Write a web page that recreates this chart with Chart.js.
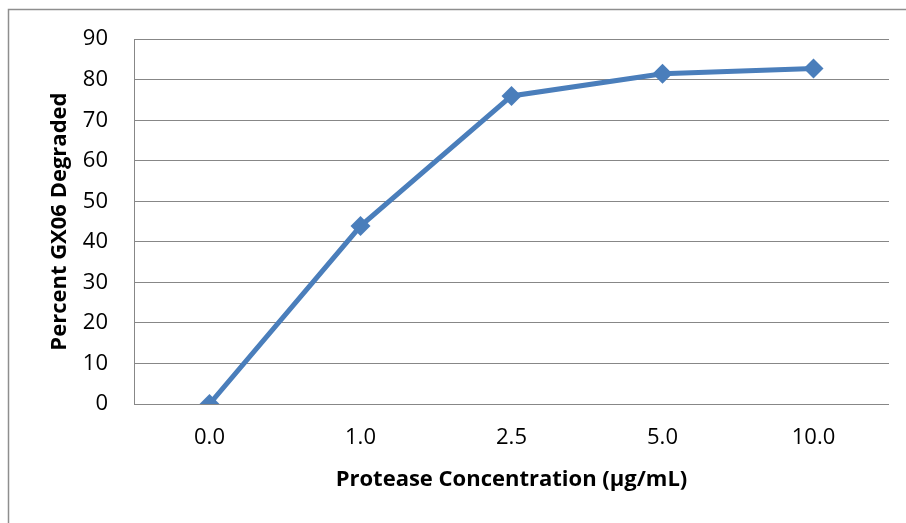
<!DOCTYPE html>
<html>
<head>
<meta charset="utf-8">
<title>Protease degradation of GX06</title>
<script src="https://cdn.jsdelivr.net/npm/chart.js@4.4.0/dist/chart.umd.min.js"></script>
<style>
  html, body { margin: 0; padding: 0; background: #ffffff; }
  #wrap { position: relative; width: 906px; height: 523px; }
</style>
</head>
<body>
<div id="wrap"><canvas id="degradeChart" width="906" height="523"></canvas></div>
<script>
  // ---------- Data ----------
  const concentrations = ["0.0", "1.0", "2.5", "5.0", "10.0"];
  const percentDegraded = [0, 43.9, 76.0, 81.5, 82.8];
  const yTicks = [0, 10, 20, 30, 40, 50, 60, 70, 80, 90];

  // ---------- Palette ----------
  const COLORS = {
    ink: "#000000",
    grid: "#878787",
    frame: "#8e8e8e",
    line: "#4a7ebb",
  };
  const FONT = "'Open Sans', 'Noto Sans', sans-serif";

  // Thin grey frame around the whole chart
  const framePlugin = {
    id: "frame",
    beforeDraw(chart) {
      const ctx = chart.ctx;
      ctx.save();
      ctx.strokeStyle = COLORS.frame;
      ctx.lineWidth = 1.5;
      ctx.strokeRect(8.5, 9.5, 920, 540);
      ctx.restore();
    },
  };

  new Chart(document.getElementById("degradeChart"), {
    type: "line",
    data: {
      labels: concentrations,
      datasets: [
        {
          data: percentDegraded,
          borderColor: COLORS.line,
          backgroundColor: COLORS.line,
          borderWidth: 5,
          pointStyle: "rectRot",
          pointRadius: 10,
          pointHoverRadius: 10,
          pointBorderWidth: 0,
          tension: 0,
        },
      ],
    },
    options: {
      responsive: false,
      animation: false,
      devicePixelRatio: 1,
      layout: { padding: { left: 0, top: 39, right: 17, bottom: 0 } },
      plugins: { legend: { display: false }, tooltip: { enabled: false } },
      scales: {
        x: {
          offset: true,
          grid: { display: false, drawTicks: false },
          border: { display: false },
          ticks: {
            color: COLORS.ink,
            font: { family: FONT, size: 22 },
            padding: 21,
            maxRotation: 0,
          },
          title: {
            display: true,
            text: "Protease Concentration (µg/mL)",
            color: COLORS.ink,
            font: { family: FONT, size: 22, weight: "bold" },
            padding: { top: 0, bottom: 30 },
          },
          afterFit(scale) { scale.height = 119; },
        },
        y: {
          min: 0,
          max: 90,
          afterBuildTicks(scale) { scale.ticks = yTicks.map((v) => ({ value: v })); },
          grid: { color: COLORS.grid, lineWidth: 1, drawTicks: false },
          border: { display: true, color: COLORS.grid, width: 1 },
          ticks: {
            color: COLORS.ink,
            font: { family: FONT, size: 22 },
            padding: 26,
          },
          title: {
            display: true,
            text: "Percent GX06 Degraded",
            color: COLORS.ink,
            font: { family: FONT, size: 22, weight: "bold" },
            padding: { top: 47, bottom: 0 },
          },
          afterFit(scale) { scale.width = 134; },
        },
      },
    },
    plugins: [framePlugin],
  });
</script>
</body>
</html>
